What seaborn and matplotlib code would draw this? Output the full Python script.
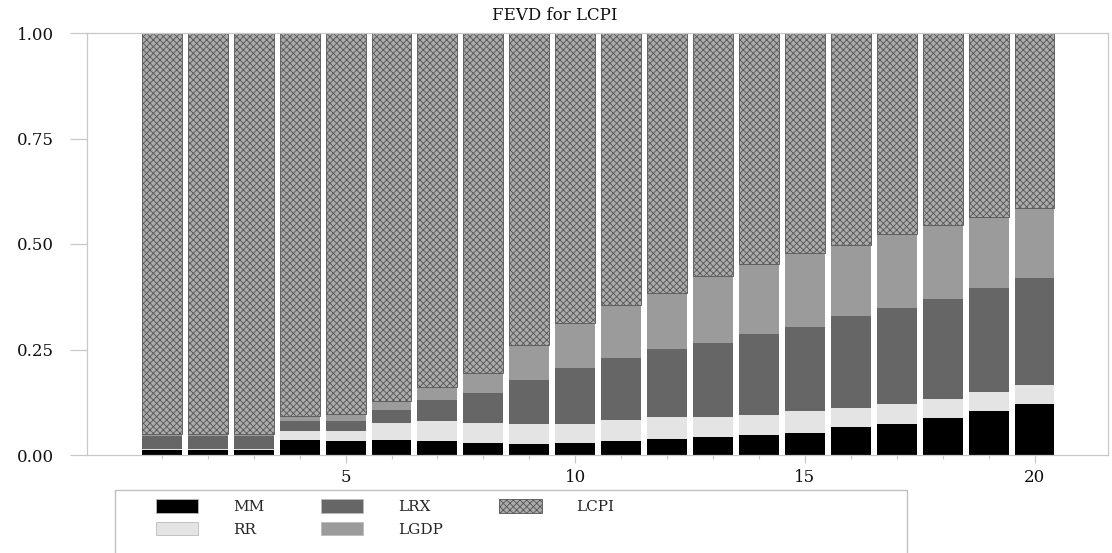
import matplotlib
matplotlib.use("Agg")
import matplotlib.pyplot as plt
import pandas as pd
import seaborn as sns
from matplotlib.patches import Patch, Rectangle
from matplotlib.ticker import FixedLocator, FormatStrFormatter
from matplotlib.colors import to_rgba

# ---- data ----
periods = list(range(1, 21))
MM = [0.012, 0.012, 0.012, 0.036, 0.033, 0.036, 0.032, 0.029, 0.027, 0.028,
      0.032, 0.039, 0.043, 0.047, 0.053, 0.066, 0.074, 0.087, 0.104, 0.120]
RR = [0.002, 0.002, 0.002, 0.022, 0.025, 0.041, 0.049, 0.048, 0.046, 0.045,
      0.051, 0.052, 0.048, 0.048, 0.051, 0.045, 0.046, 0.046, 0.045, 0.046]
LRX = [0.031, 0.031, 0.031, 0.023, 0.023, 0.030, 0.050, 0.071, 0.105, 0.132,
       0.148, 0.161, 0.174, 0.191, 0.199, 0.218, 0.229, 0.237, 0.246, 0.254]
LGDP = [0.005, 0.005, 0.005, 0.011, 0.015, 0.022, 0.031, 0.046, 0.082, 0.107,
        0.124, 0.133, 0.158, 0.167, 0.175, 0.169, 0.174, 0.174, 0.170, 0.165]
LCPI = [0.950, 0.950, 0.950, 0.908, 0.904, 0.871, 0.838, 0.806, 0.740, 0.688,
        0.645, 0.615, 0.577, 0.547, 0.522, 0.502, 0.477, 0.456, 0.435, 0.415]
series_names = ["MM", "RR", "LRX", "LGDP", "LCPI"]
series_values = [MM, RR, LRX, LGDP, LCPI]
title = "FEVD for LCPI"
ytick_values = [0.0, 0.25, 0.50, 0.75, 1.0]
xtick_major = [5, 10, 15, 20]

colors = {"MM": "#000000", "RR": "#e4e4e4", "LRX": "#666666",
          "LGDP": "#9b9b9b", "LCPI": "#ababab"}
hatch_edge = "#555555"

rows = []
for name, vals in zip(series_names, series_values):
    for p, v in zip(periods, vals):
        rows.append({"period": p, "share": v, "var": name})
df = pd.DataFrame(rows)

sns.set_theme(style="white")
plt.rcParams['font.family'] = ['DejaVu Serif', 'Liberation Serif']
plt.rcParams['hatch.linewidth'] = 0.6

fig = plt.figure(figsize=(11.12, 5.53), dpi=100)
ax = fig.add_axes([87 / 1112, 1 - 455 / 553, (1108 - 87) / 1112, (455 - 33) / 553])

sns.histplot(data=df, x="period", weights="share", hue="var",
             hue_order=series_names[::-1], multiple="stack", discrete=True,
             shrink=0.87, palette=colors, alpha=1, linewidth=0,
             legend=False, ax=ax)

lcpi_rgba = to_rgba(colors["LCPI"])
for p in ax.patches:
    fc = p.get_facecolor()
    if all(abs(a - b) < 1e-3 for a, b in zip(fc, lcpi_rgba)):
        p.set_hatch("xxxxx")
        p.set_edgecolor(hatch_edge)
        p.set_linewidth(0.6)

ax.set_xlim(-0.63, 21.6)
ax.set_ylim(0, 1)
ax.set_xlabel("")
ax.set_ylabel("")
ax.set_yticks(ytick_values)
ax.yaxis.set_major_formatter(FormatStrFormatter("%.2f"))
ax.xaxis.set_major_locator(FixedLocator(xtick_major))
ax.xaxis.set_minor_locator(FixedLocator(periods))
for s in ax.spines.values():
    s.set_color("#c8c8c8")
    s.set_linewidth(0.9)
ax.tick_params(axis="y", which="major", left=True, length=12, width=0.9,
               color="#c8c8c8", pad=12, labelsize=12, labelcolor="#111111")
ax.tick_params(axis="x", which="major", bottom=True, length=6, width=0.9,
               color="#c8c8c8", pad=4, labelsize=12, labelcolor="#111111")
ax.tick_params(axis="x", which="minor", bottom=True, length=3, width=0.8,
               color="#c8c8c8")

fig.text(555 / 1112, 1 - 15 / 553, title,
         ha="center", va="center", fontsize=12, color="#111111")

# legend frame box
fig.patches.append(Rectangle((115 / 1112, -0.02), (907 - 115) / 1112, 0.02 + (553 - 490) / 553,
                             transform=fig.transFigure, fill=False,
                             edgecolor="#c0c0c0", linewidth=1.0))

handles = []
for name in series_names:
    if name == "LCPI":
        handles.append(Patch(facecolor=colors[name], edgecolor=hatch_edge,
                             hatch="xxxxx", linewidth=0.6, label=name))
    else:
        handles.append(Patch(facecolor=colors[name], edgecolor="#bbbbbb",
                             linewidth=0.6, label=name))
fig.legend(handles=handles, ncol=3, loc="upper left",
           bbox_to_anchor=(156 / 1112, 1 - 499 / 553), frameon=False,
           fontsize=11, handlelength=2.75, handleheight=1.0,
           handletextpad=2.3, columnspacing=3.7, labelspacing=0.5,
           borderpad=0, borderaxespad=0)

fig.savefig("out.png", dpi=100)
